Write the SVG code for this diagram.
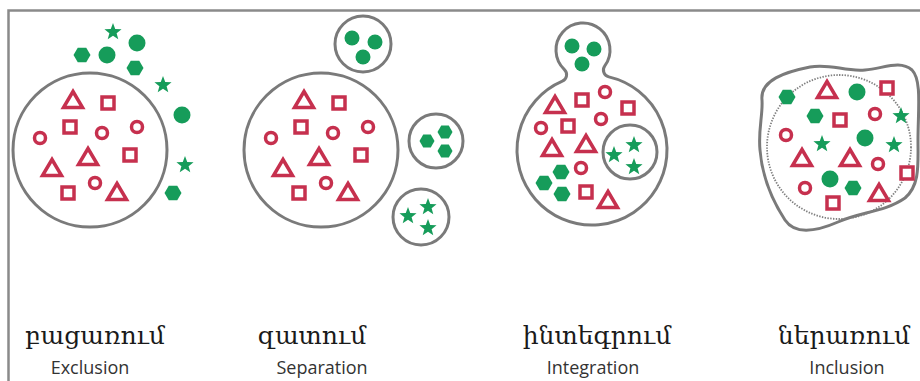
<svg xmlns="http://www.w3.org/2000/svg" width="920" height="381" viewBox="0 0 920 381">
  <style>
    .frame { fill: none; stroke: #8a8a8a; stroke-width: 2.5; }
    .ring { fill: #ffffff; stroke: #7a7a7a; stroke-width: 3; }
    .dots { fill: none; stroke: #7f7f7f; stroke-width: 1.8; stroke-dasharray: 1.4 1.4; }
    .r { fill: #ffffff; stroke: #c6304e; stroke-width: 3.5; stroke-linejoin: miter; }
    .g { fill: #169c5a; }
    .arm { font-family: "DejaVu Serif", "Noto Serif", serif; font-size: 25px; fill: #1a1a1a; text-anchor: middle; }
    .eng { font-family: "Open Sans", "Noto Sans", sans-serif; font-size: 18px; fill: #333333; text-anchor: middle; }
  </style>
  <defs>
    <!-- red outlined shapes -->
    <rect id="sq" class="r" x="-6" y="-6" width="12" height="12"/>
    <circle id="ci" class="r" r="5.5"/>
    <path id="tr" class="r" d="M0,-8.5 L9.5,7.5 L-9.5,7.5 Z"/>
    <!-- green filled shapes -->
    <circle id="gc" class="g" r="8.5"/>
    <circle id="gcs" class="g" r="7.5"/>
    <path id="hx" class="g" d="M8.5,0 L4.25,7.36 L-4.25,7.36 L-8.5,0 L-4.25,-7.36 L4.25,-7.36 Z"/>
    <path id="hxs" class="g" d="M7.5,0 L3.75,6.5 L-3.75,6.5 L-7.5,0 L-3.75,-6.5 L3.75,-6.5 Z"/>
    <path id="st" class="g" d="M0,-9 L2.23,-3.07 L8.56,-2.78 L3.61,1.17 L5.29,7.28 L0,3.8 L-5.29,7.28 L-3.61,1.17 L-8.56,-2.78 L-2.23,-3.07 Z"/>
    <!-- shared red layout of the exclusion / separation circles -->
    <g id="redset">
      <use href="#tr" x="73" y="100"/>
      <use href="#sq" x="108" y="103"/>
      <use href="#ci" x="40" y="138"/>
      <use href="#sq" x="70" y="127"/>
      <use href="#ci" x="102" y="133"/>
      <use href="#ci" x="137" y="127"/>
      <use href="#tr" x="88" y="157"/>
      <use href="#sq" x="130" y="155"/>
      <use href="#tr" x="52" y="168"/>
      <use href="#ci" x="95" y="183"/>
      <use href="#sq" x="68" y="193"/>
      <use href="#tr" x="117" y="192"/>
    </g>
  </defs>

  <rect width="920" height="381" fill="#ffffff"/>
  <path class="frame" d="M8.5,381 V10.5 H920"/>

  <!-- exclusion -->
  <g id="exclusion">
    <circle class="ring" cx="90" cy="150" r="77"/>
    <use href="#redset"/>
    <use href="#st" x="113" y="32"/>
    <use href="#gc" x="137" y="43"/>
    <use href="#hx" x="82" y="55"/>
    <use href="#gc" x="107" y="55"/>
    <use href="#hx" x="135" y="68"/>
    <use href="#st" x="163" y="85"/>
    <use href="#gc" x="182" y="115"/>
    <use href="#st" x="185" y="165"/>
    <use href="#hx" x="173" y="193"/>
  </g>

  <!-- separation -->
  <g id="separation">
    <circle class="ring" cx="321" cy="150" r="77"/>
    <use href="#redset" x="231"/>
    <circle class="ring" cx="363" cy="44" r="28"/>
    <use href="#gcs" x="352" y="38"/>
    <use href="#gcs" x="375" y="42"/>
    <use href="#gcs" x="363" y="57"/>
    <circle class="ring" cx="436" cy="141" r="27"/>
    <use href="#hxs" x="427" y="141"/>
    <use href="#hxs" x="445" y="132"/>
    <use href="#hxs" x="445" y="151"/>
    <circle class="ring" cx="421" cy="217" r="28"/>
    <use href="#st" x="408" y="216"/>
    <use href="#st" x="428" y="207"/>
    <use href="#st" x="428" y="228"/>
  </g>

  <!-- integration: big circle joined to the small top circle by short fillets -->
  <g id="integration">
    <path class="ring" d="M608.85,76.91 A75,75 0 1 1 562.37,81.10 A7,7 0 0 0 564.42,69.59 A27,27 0 1 1 604.77,65.95 A7,7 0 0 0 608.85,76.91 Z"/>
    <use href="#gcs" x="572" y="46"/>
    <use href="#gcs" x="594" y="49"/>
    <use href="#gcs" x="582" y="64"/>
    <use href="#tr" x="555" y="105"/>
    <use href="#sq" x="582" y="100"/>
    <use href="#ci" x="605" y="92"/>
    <use href="#sq" x="628" y="108"/>
    <use href="#ci" x="541" y="128"/>
    <use href="#sq" x="568" y="126"/>
    <use href="#ci" x="601" y="119"/>
    <use href="#tr" x="552" y="148"/>
    <use href="#tr" x="586" y="144"/>
    <use href="#ci" x="581" y="168"/>
    <use href="#sq" x="586" y="192"/>
    <use href="#tr" x="608" y="200"/>
    <use href="#hx" x="561" y="172"/>
    <use href="#hx" x="544" y="183"/>
    <use href="#hx" x="562" y="194"/>
    <circle class="ring" cx="630" cy="152" r="27"/>
    <use href="#st" x="614" y="155"/>
    <use href="#st" x="634" y="145"/>
    <use href="#st" x="634" y="167"/>
  </g>

  <!-- inclusion: irregular outline with dotted circle -->
  <g id="inclusion">
    <path class="ring" d="M762,100 C760,80 785,72 810,67 C830,63 845,72 865,70 C885,68 900,60 912,70 C922,80 918,110 918,140 C918,165 920,185 905,198 C885,212 860,212 838,222 C815,232 795,235 785,220 C772,200 762,175 760,150 C758,130 763,115 762,100 Z"/>
    <circle class="dots" cx="839" cy="147" r="72"/>
    <use href="#hx" x="787" y="97"/>
    <use href="#tr" x="827" y="90"/>
    <use href="#gc" x="857" y="92"/>
    <use href="#sq" x="887" y="88"/>
    <use href="#hx" x="815" y="116"/>
    <use href="#sq" x="840" y="120"/>
    <use href="#ci" x="875" y="114"/>
    <use href="#st" x="901" y="116"/>
    <use href="#ci" x="786" y="135"/>
    <use href="#st" x="822" y="144"/>
    <use href="#gc" x="865" y="138"/>
    <use href="#st" x="894" y="145"/>
    <use href="#tr" x="802" y="158"/>
    <use href="#tr" x="850" y="158"/>
    <use href="#ci" x="878" y="164"/>
    <use href="#sq" x="907" y="173"/>
    <use href="#gc" x="830" y="179"/>
    <use href="#ci" x="805" y="188"/>
    <use href="#hx" x="853" y="188"/>
    <use href="#tr" x="879" y="193"/>
    <use href="#sq" x="833" y="203"/>
  </g>

  <!-- labels -->
  <g id="labels">
    <text class="arm" x="95" y="344">բացառում</text>
    <text class="eng" x="90" y="374">Exclusion</text>
    <text class="arm" x="312" y="344">զատում</text>
    <text class="eng" x="322" y="374">Separation</text>
    <text class="arm" x="597" y="344">ինտեգրում</text>
    <text class="eng" x="593" y="374">Integration</text>
    <text class="arm" x="844" y="344">ներառում</text>
    <text class="eng" x="847" y="374">Inclusion</text>
  </g>
</svg>
